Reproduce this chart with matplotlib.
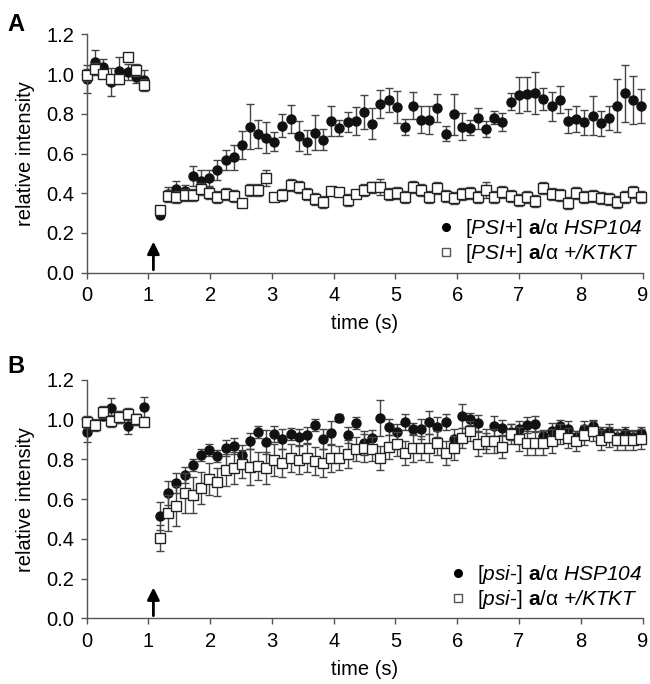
import numpy as np
import matplotlib.pyplot as plt
from matplotlib.lines import Line2D

plt.rcParams['font.family'] = ['Liberation Sans', 'DejaVu Sans']
plt.rcParams['mathtext.fontset'] = 'custom'
plt.rcParams['mathtext.rm'] = 'Liberation Sans'
plt.rcParams['mathtext.it'] = 'Liberation Sans:italic'
plt.rcParams['mathtext.bf'] = 'Liberation Sans:bold'
# sf slot used for fully italic words incl. digits and signs
plt.rcParams['mathtext.sf'] = 'Liberation Sans:italic'

# time points (s)
t_pre = [0.0, 0.13, 0.27, 0.40, 0.53, 0.67, 0.80, 0.93]
t_post = [1.19, 1.32, 1.45, 1.59, 1.72, 1.85, 1.98, 2.11, 2.25, 2.38,
          2.51, 2.64, 2.77, 2.91, 3.04, 3.17, 3.30, 3.43, 3.57, 3.70,
          3.83, 3.96, 4.09, 4.23, 4.36, 4.49, 4.62, 4.75, 4.89, 5.02,
          5.15, 5.28, 5.41, 5.55, 5.68, 5.81, 5.94, 6.07, 6.21, 6.34,
          6.47, 6.60, 6.73, 6.87, 7.00, 7.13, 7.26, 7.39, 7.53, 7.66,
          7.79, 7.92, 8.05, 8.19, 8.32, 8.45, 8.58, 8.71, 8.85, 8.98]

# panel A: [PSI+]
a_hsp = [0.976, 1.06, 1.036, 0.96, 1.018, 1.01, 0.985, 0.97,
         0.292, 0.395, 0.42, 0.412, 0.486, 0.462, 0.478, 0.516, 0.567, 0.58,
         0.641, 0.736, 0.699, 0.68, 0.66, 0.741, 0.773, 0.689, 0.66, 0.705,
         0.67, 0.764, 0.729, 0.758, 0.763, 0.81, 0.751, 0.849, 0.869, 0.834,
         0.733, 0.842, 0.77, 0.77, 0.829, 0.70, 0.798, 0.736, 0.731, 0.778,
         0.722, 0.781, 0.758, 0.861, 0.895, 0.898, 0.903, 0.874, 0.837, 0.871,
         0.763, 0.776, 0.758, 0.79, 0.753, 0.78, 0.842, 0.903, 0.871, 0.84]
a_hsp_err = [0.07, 0.06, 0.04, 0.07, 0.07, 0.04, 0.03, 0.05,
             0.015, 0.034, 0.04, 0.03, 0.05, 0.055, 0.04, 0.05, 0.05, 0.063,
             0.07, 0.115, 0.072, 0.078, 0.048, 0.06, 0.07, 0.074, 0.06, 0.087,
             0.052, 0.076, 0.04, 0.052, 0.072, 0.087, 0.076, 0.07, 0.06, 0.08,
             0.04, 0.07, 0.068, 0.07, 0.072, 0.039, 0.104, 0.07, 0.04, 0.053,
             0.04, 0.032, 0.045, 0.044, 0.09, 0.086, 0.106, 0.055, 0.071, 0.068,
             0.061, 0.066, 0.063, 0.098, 0.063, 0.061, 0.136, 0.142, 0.12, 0.086]
a_ktkt = [0.997, 1.026, 1.0, 0.976, 0.976, 1.085, 1.02, 0.947,
          0.314, 0.385, 0.381, 0.39, 0.393, 0.419, 0.40, 0.381, 0.398, 0.385,
          0.351, 0.415, 0.415, 0.478, 0.381, 0.391, 0.44, 0.432, 0.398, 0.373,
          0.356, 0.412, 0.407, 0.368, 0.395, 0.415, 0.429, 0.432, 0.395, 0.40,
          0.381, 0.432, 0.415, 0.381, 0.424, 0.385, 0.376, 0.398, 0.40, 0.381,
          0.415, 0.381, 0.407, 0.386, 0.368, 0.381, 0.36, 0.424, 0.398, 0.39,
          0.351, 0.40, 0.381, 0.385, 0.378, 0.373, 0.356, 0.381, 0.407, 0.381]
a_ktkt_err = [0.03, 0.03, 0.02, 0.02, 0.02, 0.02, 0.03, 0.03,
              0.02, 0.03, 0.03, 0.03, 0.03, 0.03, 0.03, 0.03, 0.03, 0.03,
              0.02, 0.03, 0.03, 0.04, 0.02, 0.03, 0.03, 0.03, 0.03, 0.03,
              0.03, 0.02, 0.02, 0.03, 0.02, 0.03, 0.03, 0.04, 0.03, 0.03,
              0.03, 0.03, 0.03, 0.03, 0.03, 0.03, 0.03, 0.03, 0.03, 0.03,
              0.04, 0.03, 0.03, 0.03, 0.03, 0.03, 0.03, 0.03, 0.03, 0.03,
              0.03, 0.03, 0.03, 0.03, 0.03, 0.03, 0.03, 0.03, 0.03, 0.03]

# panel B: [psi-]
b_hsp = [0.939, 0.97, 1.018, 1.056, 1.014, 0.967, 1.0, 1.061,
         0.517, 0.632, 0.679, 0.72, 0.77, 0.82, 0.847, 0.817, 0.858, 0.868,
         0.822, 0.894, 0.937, 0.889, 0.927, 0.902, 0.925, 0.914, 0.92, 0.972,
         0.902, 0.93, 1.006, 0.92, 0.982, 0.883, 0.909, 1.009, 0.964, 0.937,
         0.986, 0.95, 0.95, 0.985, 0.961, 0.986, 0.90, 1.018, 1.001, 0.981,
         0.89, 0.967, 0.956, 0.939, 0.95, 0.972, 0.977, 0.919, 0.942, 0.967,
         0.95, 0.91, 0.95, 0.967, 0.933, 0.938, 0.91, 0.93, 0.91, 0.93]
b_hsp_err = [0.05, 0.02, 0.02, 0.05, 0.03, 0.04, 0.03, 0.05,
             0.07, 0.06, 0.05, 0.04, 0.03, 0.03, 0.03, 0.03, 0.04, 0.04,
             0.05, 0.04, 0.03, 0.06, 0.04, 0.05, 0.03, 0.04, 0.04, 0.03,
             0.05, 0.06, 0.02, 0.04, 0.03, 0.06, 0.04, 0.09, 0.04, 0.04,
             0.04, 0.03, 0.05, 0.06, 0.05, 0.04, 0.05, 0.06, 0.03, 0.04,
             0.04, 0.05, 0.04, 0.04, 0.04, 0.04, 0.04, 0.03, 0.04, 0.03,
             0.04, 0.03, 0.04, 0.03, 0.03, 0.04, 0.04, 0.03, 0.03, 0.03]
b_ktkt = [0.989, 0.972, 1.039, 0.994, 1.014, 1.026, 1.0, 0.989,
          0.406, 0.528, 0.567, 0.632, 0.621, 0.654, 0.701, 0.684, 0.746, 0.755,
          0.776, 0.76, 0.765, 0.755, 0.796, 0.783, 0.808, 0.796, 0.808, 0.793,
          0.78, 0.806, 0.806, 0.825, 0.85, 0.855, 0.85, 0.806, 0.863, 0.875,
          0.83, 0.855, 0.857, 0.857, 0.88, 0.83, 0.857, 0.909, 0.942, 0.878,
          0.894, 0.89, 0.864, 0.925, 0.90, 0.884, 0.884, 0.88, 0.89, 0.925,
          0.909, 0.894, 0.92, 0.942, 0.897, 0.91, 0.897, 0.897, 0.897, 0.902]
b_ktkt_err = [0.03, 0.03, 0.03, 0.03, 0.03, 0.03, 0.03, 0.02,
              0.065, 0.09, 0.1, 0.1, 0.09, 0.08, 0.08, 0.07, 0.08, 0.08,
              0.07, 0.09, 0.07, 0.08, 0.08, 0.07, 0.07, 0.07, 0.07, 0.07,
              0.07, 0.07, 0.06, 0.07, 0.06, 0.07, 0.06, 0.06, 0.06, 0.06,
              0.06, 0.07, 0.06, 0.07, 0.06, 0.06, 0.06, 0.05, 0.05, 0.06,
              0.06, 0.06, 0.06, 0.05, 0.06, 0.06, 0.06, 0.06, 0.06, 0.05,
              0.05, 0.05, 0.05, 0.05, 0.05, 0.05, 0.05, 0.05, 0.05, 0.05]

labels_a = [r'[$\it{PSI}$+] $\bf{a}$/$\mathrm{\alpha}$ $\mathsf{HSP104}$',
            r'[$\it{PSI}$+] $\bf{a}$/$\mathrm{\alpha}$ $\mathsf{{+}/KTKT}$']
labels_b = [r'[$\it{psi}$-] $\bf{a}$/$\mathrm{\alpha}$ $\mathsf{HSP104}$',
            r'[$\it{psi}$-] $\bf{a}$/$\mathrm{\alpha}$ $\mathsf{{+}/KTKT}$']

time = t_pre + t_post
axis_grey = '#555555'
bar_grey = '#444444'


def draw_panel(ax, hsp, hsp_err, ktkt, ktkt_err, labels):
    c1 = ax.errorbar(time, hsp, yerr=hsp_err, fmt='o', ms=6.5, mfc='#111111', mec='#111111',
                     ecolor=bar_grey, elinewidth=1, capsize=3.2, capthick=1, zorder=2)
    c2 = ax.errorbar(time, ktkt, yerr=ktkt_err, fmt='s', ms=7, mfc='white', mec='#222222', mew=1,
                     ecolor=bar_grey, elinewidth=1, capsize=3.2, capthick=1, zorder=3)
    # first points sit on the y axis, keep them whole
    for cont in (c1, c2):
        for art in cont.get_children():
            art.set_clip_on(False)
    ax.set_xlim(0, 9)
    ax.set_ylim(0, 1.2)
    ax.set_xticks(range(10))
    ax.set_yticks(np.arange(0, 1.21, 0.2))
    ax.yaxis.set_major_formatter(plt.FormatStrFormatter('%.1f'))
    for s in ['top', 'right']:
        ax.spines[s].set_visible(False)
    for s in ['left', 'bottom']:
        ax.spines[s].set_color(axis_grey)
        ax.spines[s].set_linewidth(1)
    ax.tick_params(direction='out', length=4, width=1, color=axis_grey, labelsize=14.5)
    ax.tick_params(axis='x', pad=6)
    ax.tick_params(axis='y', pad=5)
    ax.set_xlabel('time (s)', fontsize=14.5, labelpad=6)
    ax.set_ylabel('relative intensity', fontsize=14.5, labelpad=8)
    ax.annotate('', xy=(1.08, 0.17), xytext=(1.08, 0.0), clip_on=False,
                arrowprops=dict(arrowstyle='-|>', color='black', lw=2, mutation_scale=18))
    handles = [Line2D([], [], ls='', marker='o', ms=5.5, mfc='black', mec='black'),
               Line2D([], [], ls='', marker='s', ms=5.5, mfc='white', mec='#555555')]
    ax.legend(handles, labels, loc='lower right', bbox_to_anchor=(1.0, 0.03), frameon=False,
              fontsize=15, handlelength=0.8, handletextpad=0.5, labelspacing=0.1,
              borderaxespad=0, borderpad=0)


fig = plt.figure(figsize=(6.5, 6.84), dpi=100)
ax_a = fig.add_axes([0.1334, 0.6015, 0.8551, 0.3481])
ax_b = fig.add_axes([0.1334, 0.0958, 0.8551, 0.3491])

draw_panel(ax_a, a_hsp, a_hsp_err, a_ktkt, a_ktkt_err, labels_a)
draw_panel(ax_b, b_hsp, b_hsp_err, b_ktkt, b_ktkt_err, labels_b)

fig.text(0.012, 0.955, 'A', fontsize=17, fontweight='bold')
fig.text(0.012, 0.455, 'B', fontsize=17, fontweight='bold')

fig.savefig('out.png', dpi=100)
